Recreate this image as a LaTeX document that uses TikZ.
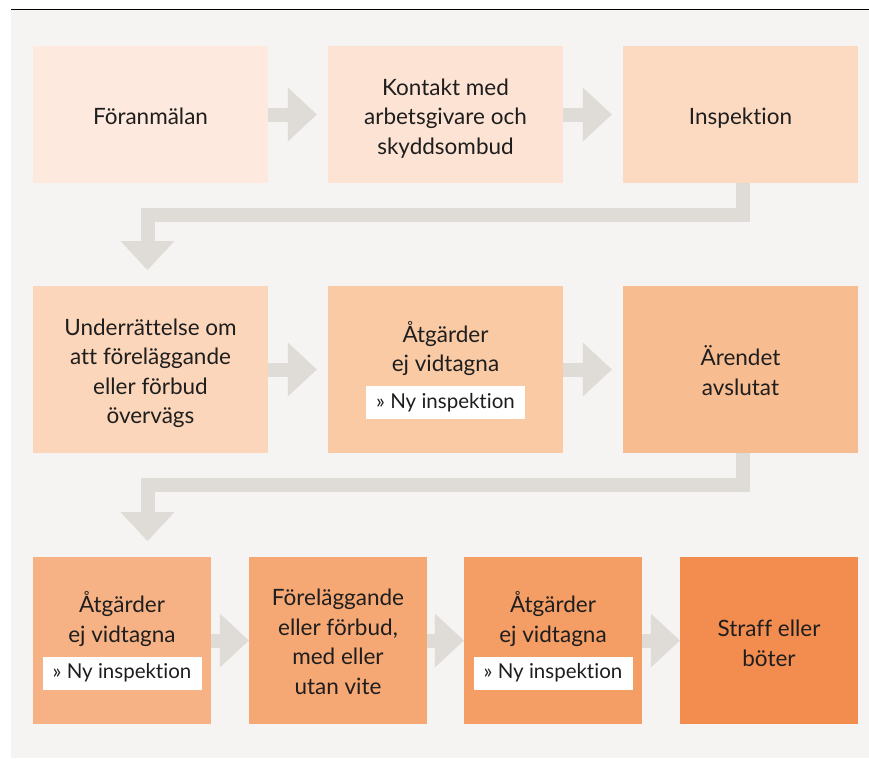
\documentclass[tikz,border=0pt]{standalone}
\usepackage{fontspec}
\setmainfont{Lato}[Ligatures=NoCommon]
\usetikzlibrary{arrows.meta,calc}
\definecolor{bg}{HTML}{F5F4F2}
\definecolor{arr}{HTML}{DFDBD6}
\definecolor{txt}{HTML}{1E1E1E}
\definecolor{c1}{HTML}{FDE9DD}
\definecolor{c2}{HTML}{FDE3D3}
\definecolor{c3}{HTML}{FCDAC2}
\definecolor{c4}{HTML}{FCD6BA}
\definecolor{c5}{HTML}{FACAA5}
\definecolor{c6}{HTML}{F8BC91}
\definecolor{c7}{HTML}{F6B284}
\definecolor{c8}{HTML}{F5A774}
\definecolor{c9}{HTML}{F49E65}
\definecolor{c10}{HTML}{F28D4F}
\begin{document}
\begin{tikzpicture}[x=1pt,y=-1pt,
  boxbase/.style={rectangle, inner sep=0pt},
  widebox/.style={boxbase, minimum width=235pt},
  narrowbox/.style={boxbase, minimum width=178pt, minimum height=167pt},
  rowone/.style={minimum height=137pt},
  rowtwo/.style={minimum height=167pt},
  txtnode/.style={inner sep=0pt, align=center, text=txt,
    font=\fontsize{22.5}{29.5}\selectfont},
  tag/.style={fill=white, inner sep=0pt, minimum width=159pt, minimum height=33pt,
    text=txt, font=\fontsize{20.5}{22}\selectfont},
  conn/.style={draw=arr, line width=14pt, line join=miter,
    -{Triangle[length=29pt 0 0, width=54pt 0 0, line width=0pt 0 0]}}
]
\useasboundingbox (0,0) rectangle (869,758);
\fill[bg] (11,9.5) rectangle (869,758);
\draw[line width=1pt] (11,9.5) -- (869,9.5);

% row 1
\node[widebox, rowone, fill=c1] (b1) at (150.5,114.5) {};
\node[widebox, rowone, fill=c2] (b2) at (445.5,114.5) {};
\node[widebox, rowone, fill=c3] (b3) at (740.5,114.5) {};
\node[txtnode] (l1) at ([yshift=-2pt]b1.center) {Föranmälan};
\node[txtnode] (l2) at ([yshift=-4pt]b2.center) {Kontakt med\\arbetsgivare och\\skyddsombud};
\node[txtnode] (l3) at ([yshift=-4pt]b3.center) {Inspektion};

% row 2
\node[widebox, rowtwo, fill=c4] (b4) at (150.5,369.5) {};
\node[txtnode] (l4) at ([yshift=-4pt]b4.center) {Underrättelse om\\att föreläggande\\eller förbud\\övervägs};
\node[widebox, rowtwo, fill=c5] (b5) at (445.5,369.5) {};
\node[txtnode] (l5) at (445.5,348.5) {Åtgärder\\ej vidtagna};
\node[tag] (n5) at (445.5,402.5) {» Ny inspektion};
\node[widebox, rowtwo, fill=c6] (b6) at (740.5,369.5) {};
\node[txtnode] (l6) at ([yshift=-1pt]b6.center) {Ärendet\\avslutat};

% row 3
\node[narrowbox, fill=c7] (b7) at (122,640.5) {};
\node[txtnode] (l7) at (122,619) {Åtgärder\\ej vidtagna};
\node[tag] (n7) at (122,673) {» Ny inspektion};
\node[narrowbox, fill=c8] (b8) at (338,640.5) {};
\node[txtnode] (l8) at ([yshift=-1.5pt]b8.center) {Föreläggande\\eller förbud,\\med eller\\utan vite};
\node[narrowbox, fill=c9] (b9) at (553,640.5) {};
\node[txtnode] (l9) at (553,619) {Åtgärder\\ej vidtagna};
\node[tag] (n9) at (553,673) {» Ny inspektion};
\node[narrowbox, fill=c10] (b10) at (769,640.5) {};
\node[txtnode] (l10) at ([yshift=-3pt]b10.center) {Straff eller\\böter};

% connectors
\draw[conn] (b1.east) -- ([xshift=-11pt]b2.west);
\draw[conn] (b2.east) -- ([xshift=-11pt]b3.west);
\draw[conn] (b4.east) -- ([xshift=-11pt]b5.west);
\draw[conn] (b5.east) -- ([xshift=-11pt]b6.west);
\draw[conn] (b7.east) -- (b8.west);
\draw[conn] (b8.east) -- (b9.west);
\draw[conn] (b9.east) -- (b10.west);

\coordinate (k1) at (742.5,215);
\coordinate (k2) at (147.5,215);
\coordinate (t1) at (147.5,270);
\draw[conn] (b3.south -| k1) -- (k1) -- (k2) -- (t1);

\coordinate (k3) at (742.5,485);
\coordinate (k4) at (147.5,485);
\coordinate (t2) at (147.5,541);
\draw[conn] (b6.south -| k3) -- (k3) -- (k4) -- (t2);
\end{tikzpicture}
\end{document}
